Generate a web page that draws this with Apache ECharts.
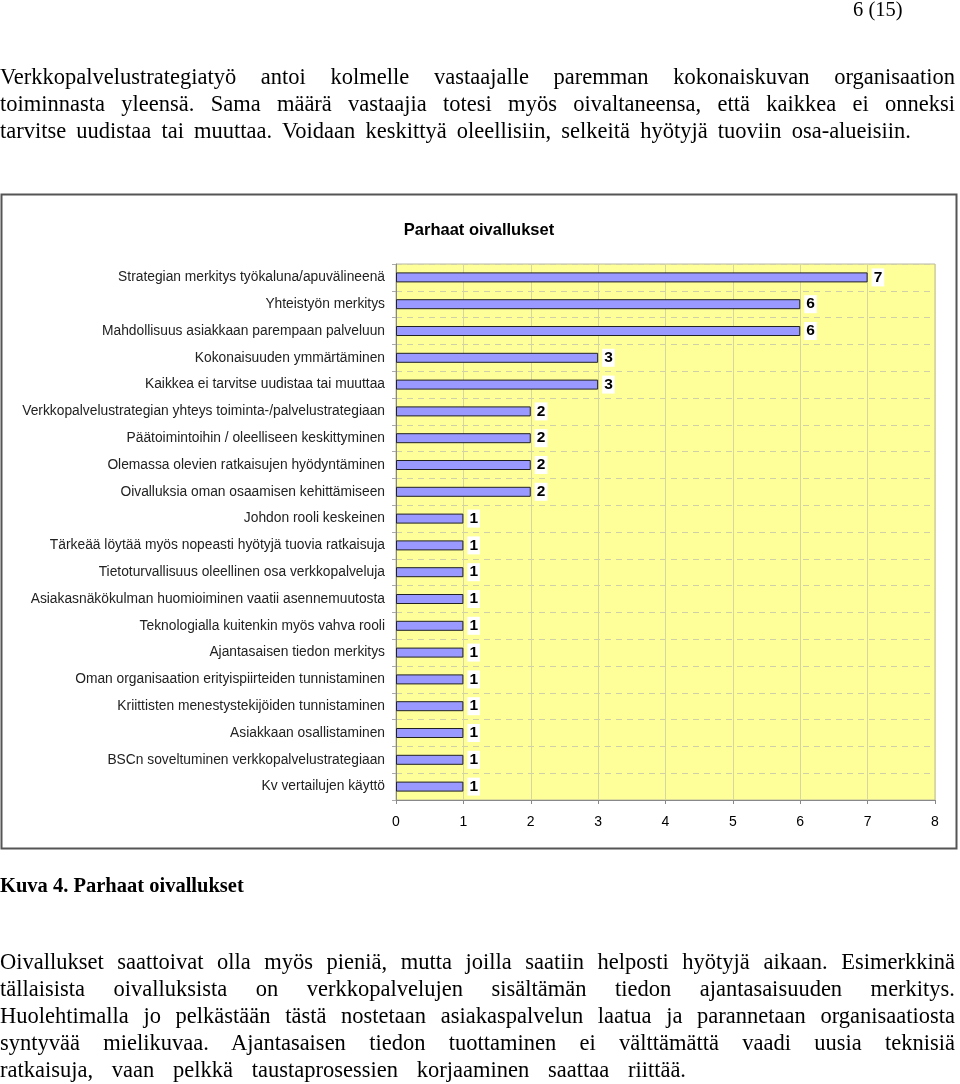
<!DOCTYPE html>
<html>
<head>
<meta charset="utf-8">
<script src="https://cdn.jsdelivr.net/npm/echarts@6/dist/echarts.min.js"></script>
<style>
html,body{margin:0;padding:0;background:#fff;}
#chart{position:absolute;left:0;top:0;width:960px;height:1084px;}
.t{position:absolute;left:0;font-family:"Liberation Serif",serif;font-size:22.5px;line-height:27px;color:#000;white-space:nowrap;z-index:2;}
.j{width:955px;text-align:justify;text-align-last:justify;white-space:normal;}
</style>
</head>
<body>
<div id="chart"></div>
<div class="t" style="left:853px;top:-4px;font-size:20.5px;">6 (15)</div>
<div class="t j" style="top:63px;">Verkkopalvelustrategiatyö antoi kolmelle vastaajalle paremman kokonaiskuvan organisaation</div>
<div class="t j" style="top:90px;">toiminnasta yleensä. Sama määrä vastaajia totesi myös oivaltaneensa, että kaikkea ei onneksi</div>
<div class="t j" style="top:117px;width:911px;">tarvitse uudistaa tai muuttaa. Voidaan keskittyä oleellisiin, selkeitä hyötyjä tuoviin osa-alueisiin.</div>
<div class="t" style="top:872px;font-weight:bold;font-size:20.5px;">Kuva 4. Parhaat oivallukset</div>
<div class="t j" style="top:948px;">Oivallukset saattoivat olla myös pieniä, mutta joilla saatiin helposti hyötyjä aikaan. Esimerkkinä</div>
<div class="t j" style="top:975px;">tällaisista oivalluksista on verkkopalvelujen sisältämän tiedon ajantasaisuuden merkitys.</div>
<div class="t j" style="top:1002px;">Huolehtimalla jo pelkästään tästä nostetaan asiakaspalvelun laatua ja parannetaan organisaatiosta</div>
<div class="t j" style="top:1029px;">syntyvää mielikuvaa. Ajantasaisen tiedon tuottaminen ei välttämättä vaadi uusia teknisiä</div>
<div class="t j" style="top:1056px;width:686px;">ratkaisuja, vaan pelkkä taustaprosessien korjaaminen saattaa riittää.</div>
<script>
const categories = [
  "Strategian merkitys työkaluna/apuvälineenä",
  "Yhteistyön merkitys",
  "Mahdollisuus asiakkaan parempaan palveluun",
  "Kokonaisuuden ymmärtäminen",
  "Kaikkea ei tarvitse uudistaa tai muuttaa",
  "Verkkopalvelustrategian yhteys toiminta-/palvelustrategiaan",
  "Päätoimintoihin / oleelliseen keskittyminen",
  "Olemassa olevien ratkaisujen hyödyntäminen",
  "Oivalluksia oman osaamisen kehittämiseen",
  "Johdon rooli keskeinen",
  "Tärkeää löytää myös nopeasti hyötyjä tuovia ratkaisuja",
  "Tietoturvallisuus oleellinen osa verkkopalveluja",
  "Asiakasnäkökulman huomioiminen vaatii asennemuutosta",
  "Teknologialla kuitenkin myös vahva rooli",
  "Ajantasaisen tiedon merkitys",
  "Oman organisaation erityispiirteiden tunnistaminen",
  "Kriittisten menestystekijöiden tunnistaminen",
  "Asiakkaan osallistaminen",
  "BSCn soveltuminen verkkopalvelustrategiaan",
  "Kv vertailujen käyttö"
];
const values = [7, 6, 6, 3, 3, 2, 2, 2, 2, 1, 1, 1, 1, 1, 1, 1, 1, 1, 1, 1];
const chartTitle = "Parhaat oivallukset";

const chart = echarts.init(document.getElementById('chart'), null, {renderer: 'canvas'});
chart.setOption({
  animation: false,
  backgroundColor: '#ffffff',
  title: {
    text: chartTitle,
    left: 474, top: 217, textAlign: 'center',
    textStyle: {fontFamily: 'Liberation Sans, Arial', fontSize: 16.5, fontWeight: 'bold', color: '#000'}
  },
  graphic: [{
    type: 'rect', silent: true,
    shape: {x: 1.5, y: 194.5, width: 955, height: 654},
    style: {fill: 'none', stroke: '#555', lineWidth: 2}
  }],
  grid: {
    left: 396, top: 264, width: 539, height: 536,
    show: true, backgroundColor: '#ffff99', borderColor: '#b8b8a0', borderWidth: 1,
    containLabel: false
  },
  xAxis: {
    type: 'value', min: 0, max: 8, interval: 1,
    axisLine: {show: true, lineStyle: {color: '#888', width: 1}},
    axisTick: {show: true, length: 4, lineStyle: {color: '#888'}},
    axisLabel: {margin: 15, fontFamily: 'Liberation Sans, Arial', fontSize: 14, color: '#000'},
    splitLine: {show: true, lineStyle: {color: '#d6d6a0', width: 1, type: 'solid'}}
  },
  yAxis: {
    type: 'category', data: categories, inverse: true,
    axisLine: {show: true, lineStyle: {color: '#888', width: 1}},
    axisTick: {show: true, length: 4, lineStyle: {color: '#aaa'}},
    axisLabel: {margin: 11, fontFamily: 'Liberation Sans, Arial', fontSize: 13.8, color: '#222'},
    splitLine: {show: true, lineStyle: {color: '#cfcfa8', width: 1, type: [6, 5]}}
  },
  series: [{
    type: 'bar', data: values, barWidth: 10,
    itemStyle: {color: '#9999ff', borderColor: '#222', borderWidth: 1},
    label: {
      show: true, position: 'right', distance: 4,
      fontFamily: 'Liberation Sans, Arial', fontSize: 15.5, fontWeight: 'bold', color: '#000',
      backgroundColor: '#ffffff', padding: [1, 2]
    }
  }]
});
</script>
</body>
</html>
